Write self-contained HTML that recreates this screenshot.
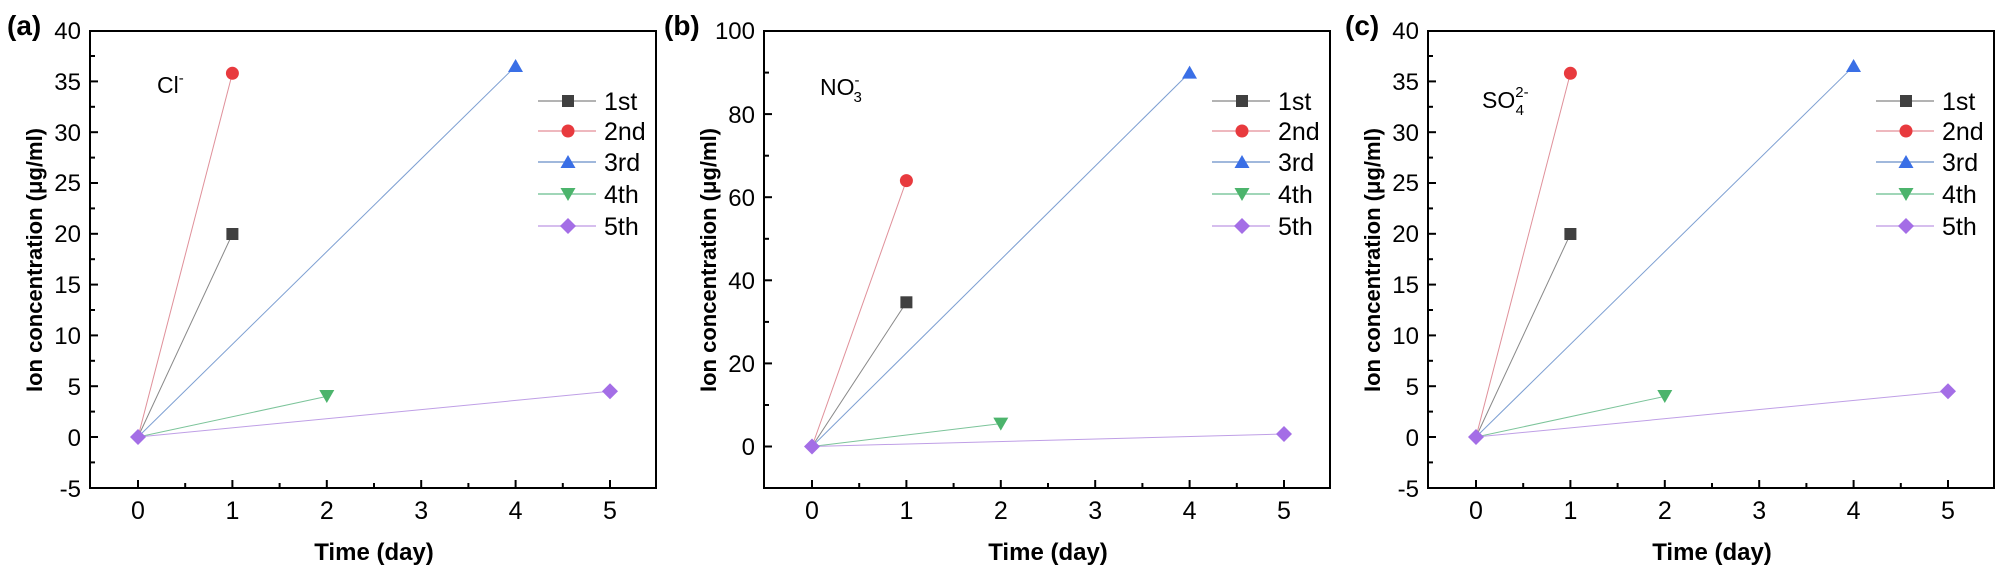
<!DOCTYPE html>
<html><head><meta charset="utf-8"><style>
html,body{margin:0;padding:0;background:#fff;}
svg{display:block;font-family:"Liberation Sans",Arial,sans-serif;}
.n{font-family:"Liberation Sans Narrow","Liberation Sans",Arial,sans-serif;}
</style></head><body>
<svg width="2000" height="569" viewBox="0 0 2000 569" xmlns="http://www.w3.org/2000/svg">
<defs>
<g id="leg">
 <g font-size="25" fill="#000" class="n">
  <line x1="448" y1="101" x2="506" y2="101" stroke="#9a9a9a" stroke-width="1.5"/>
  <rect x="472" y="95" width="12" height="12" fill="#404040"/>
  <text x="514" y="110">1st</text>
  <line x1="448" y1="131" x2="506" y2="131" stroke="#e8a0a8" stroke-width="1.5"/>
  <circle cx="478" cy="131" r="6.5" fill="#e83a3e"/>
  <text x="514" y="140">2nd</text>
  <line x1="448" y1="162" x2="506" y2="162" stroke="#80a0d0" stroke-width="1.5"/>
  <polygon points="478,155 485.5,168 470.5,168" fill="#3a6fe6"/>
  <text x="514" y="171">3rd</text>
  <line x1="448" y1="194" x2="506" y2="194" stroke="#80c8a0" stroke-width="1.5"/>
  <polygon points="470.5,188 485.5,188 478,201" fill="#4cb46c"/>
  <text x="514" y="203">4th</text>
  <line x1="448" y1="226" x2="506" y2="226" stroke="#c8a8e8" stroke-width="1.5"/>
  <polygon points="478,218 486,226 478,234 470,226" fill="#a46ee6"/>
  <text x="514" y="235">5th</text>
 </g>
</g>
<g id="xax">
 <rect x="0" y="31" width="566" height="457" fill="none" stroke="#000" stroke-width="2"/>
 <g stroke="#000" stroke-width="2">
  <line x1="48" y1="488" x2="48" y2="480"/><line x1="142.4" y1="488" x2="142.4" y2="480"/>
  <line x1="236.8" y1="488" x2="236.8" y2="480"/><line x1="331.2" y1="488" x2="331.2" y2="480"/>
  <line x1="425.6" y1="488" x2="425.6" y2="480"/><line x1="520" y1="488" x2="520" y2="480"/>
  <line x1="95.2" y1="488" x2="95.2" y2="483"/><line x1="189.6" y1="488" x2="189.6" y2="483"/>
  <line x1="284" y1="488" x2="284" y2="483"/><line x1="378.4" y1="488" x2="378.4" y2="483"/>
  <line x1="472.8" y1="488" x2="472.8" y2="483"/>
 </g>
 <g font-size="25" text-anchor="middle" class="n">
  <text x="48" y="519">0</text><text x="142.4" y="519">1</text><text x="236.8" y="519">2</text>
  <text x="331.2" y="519">3</text><text x="425.6" y="519">4</text><text x="520" y="519">5</text>
 </g>
 <text x="284" y="560" font-size="24" font-weight="bold" text-anchor="middle">Time (day)</text>
 <text transform="translate(-48,260) rotate(-90)" font-size="22" font-weight="bold" text-anchor="middle">Ion concentration (μg/ml)</text>
</g>
<g id="y40">
 <g stroke="#000" stroke-width="2">
  <line x1="0" y1="437" x2="8" y2="437"/><line x1="0" y1="386.2" x2="8" y2="386.2"/>
  <line x1="0" y1="335.4" x2="8" y2="335.4"/><line x1="0" y1="284.6" x2="8" y2="284.6"/>
  <line x1="0" y1="233.8" x2="8" y2="233.8"/><line x1="0" y1="183" x2="8" y2="183"/>
  <line x1="0" y1="132.2" x2="8" y2="132.2"/><line x1="0" y1="81.4" x2="8" y2="81.4"/>
  <line x1="0" y1="462.4" x2="5" y2="462.4"/><line x1="0" y1="411.6" x2="5" y2="411.6"/>
  <line x1="0" y1="360.8" x2="5" y2="360.8"/><line x1="0" y1="310" x2="5" y2="310"/>
  <line x1="0" y1="259.2" x2="5" y2="259.2"/><line x1="0" y1="208.4" x2="5" y2="208.4"/>
  <line x1="0" y1="157.6" x2="5" y2="157.6"/><line x1="0" y1="106.8" x2="5" y2="106.8"/>
  <line x1="0" y1="56" x2="5" y2="56"/>
 </g>
 <g font-size="24" text-anchor="end" class="n">
  <text x="-9" y="497">-5</text><text x="-9" y="446">0</text><text x="-9" y="395">5</text>
  <text x="-9" y="344">10</text><text x="-9" y="293">15</text><text x="-9" y="242">20</text>
  <text x="-9" y="191">25</text><text x="-9" y="141">30</text><text x="-9" y="90">35</text>
  <text x="-9" y="39">40</text>
 </g>
 <g stroke-width="1">
  <line x1="48" y1="437" x2="142.4" y2="73.3" stroke="#e0909a"/>
  <line x1="48" y1="437" x2="142.4" y2="234" stroke="#888"/>
  <line x1="48" y1="437" x2="425.6" y2="66.2" stroke="#7d9fd2"/>
  <line x1="48" y1="437" x2="236.8" y2="396.4" stroke="#7cc49a"/>
  <line x1="48" y1="437" x2="520" y2="391.3" stroke="#bf9fe6"/>
 </g>
 <rect x="136.4" y="228" width="12" height="12" fill="#404040"/>
 <circle cx="142.4" cy="73.3" r="6.5" fill="#e83a3e"/>
 <polygon points="425.6,59 433,72 418,72" fill="#3a6fe6"/>
 <polygon points="229.3,390 244.3,390 236.8,403" fill="#4cb46c"/>
 <polygon points="520,383.3 528,391.3 520,399.3 512,391.3" fill="#a46ee6"/>
 <polygon points="48,429 56,437 48,445 40,437" fill="#a46ee6"/>
</g>
</defs>

<g transform="translate(90,0)">
 <use href="#xax"/><use href="#y40"/><use href="#leg"/>
 <text x="67" y="93" font-size="23" class="n">Cl<tspan font-size="15" dy="-10">-</tspan></text>
</g>
<text x="7" y="35" font-size="28" font-weight="bold">(a)</text>

<g transform="translate(764,0)">
 <use href="#xax"/><use href="#leg"/>
 <g stroke="#000" stroke-width="2">
  <line x1="0" y1="446.5" x2="8" y2="446.5"/><line x1="0" y1="363.4" x2="8" y2="363.4"/>
  <line x1="0" y1="280.3" x2="8" y2="280.3"/><line x1="0" y1="197.2" x2="8" y2="197.2"/>
  <line x1="0" y1="114.1" x2="8" y2="114.1"/>
  <line x1="0" y1="405" x2="5" y2="405"/><line x1="0" y1="321.9" x2="5" y2="321.9"/>
  <line x1="0" y1="238.8" x2="5" y2="238.8"/><line x1="0" y1="155.7" x2="5" y2="155.7"/>
  <line x1="0" y1="72.6" x2="5" y2="72.6"/>
 </g>
 <g font-size="24" text-anchor="end" class="n">
  <text x="-9" y="455">0</text><text x="-9" y="372">20</text><text x="-9" y="289">40</text>
  <text x="-9" y="206">60</text><text x="-9" y="123">80</text><text x="-9" y="39">100</text>
 </g>
 <g stroke-width="1">
  <line x1="48" y1="446.5" x2="142.4" y2="180.6" stroke="#e0909a"/>
  <line x1="48" y1="446.5" x2="142.4" y2="302.3" stroke="#888"/>
  <line x1="48" y1="446.5" x2="425.6" y2="72.6" stroke="#7d9fd2"/>
  <line x1="48" y1="446.5" x2="236.8" y2="423.6" stroke="#7cc49a"/>
  <line x1="48" y1="446.5" x2="520" y2="434" stroke="#bf9fe6"/>
 </g>
 <rect x="136.4" y="296.3" width="12" height="12" fill="#404040"/>
 <circle cx="142.4" cy="180.6" r="6.5" fill="#e83a3e"/>
 <polygon points="425.6,65.6 433,78.6 418,78.6" fill="#3a6fe6"/>
 <polygon points="229.3,417.6 244.3,417.6 236.8,430.6" fill="#4cb46c"/>
 <polygon points="520,426 528,434 520,442 512,434" fill="#a46ee6"/>
 <polygon points="48,438.5 56,446.5 48,454.5 40,446.5" fill="#a46ee6"/>
 <text x="56" y="95" font-size="23" class="n">NO<tspan font-size="15" dy="-10">-</tspan><tspan font-size="15" dx="-6" dy="17">3</tspan></text>
</g>
<text x="664" y="35" font-size="28" font-weight="bold">(b)</text>

<g transform="translate(1428,0)">
 <use href="#xax"/><use href="#y40"/><use href="#leg"/>
 <text x="54" y="108" font-size="23" class="n">SO<tspan font-size="15" dy="-11">2-</tspan><tspan font-size="15" dx="-13" dy="18">4</tspan></text>
</g>
<text x="1345" y="35" font-size="28" font-weight="bold">(c)</text>
</svg>
</body></html>
